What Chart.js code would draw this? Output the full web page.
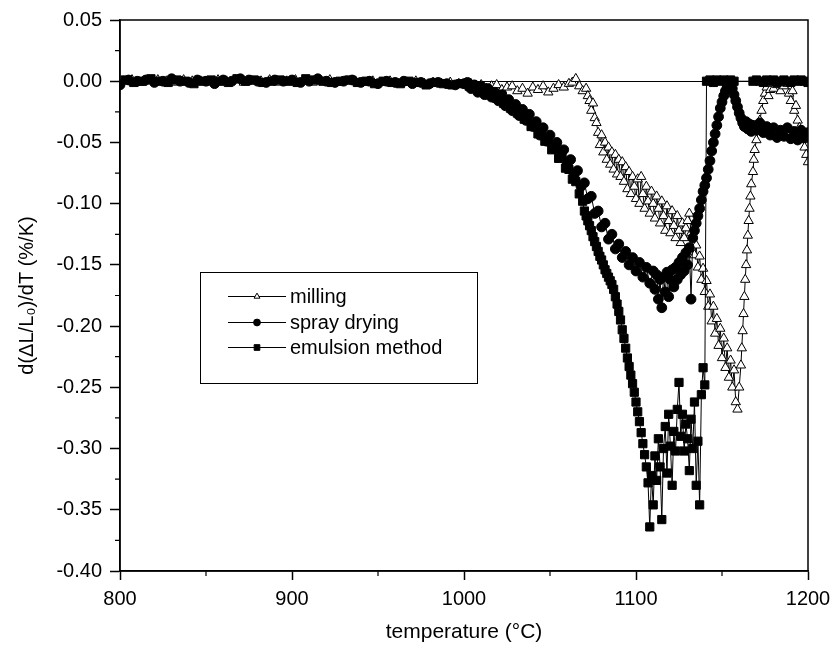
<!DOCTYPE html>
<html>
<head>
<meta charset="utf-8">
<script src="https://cdn.jsdelivr.net/npm/chart.js@4.4.0/dist/chart.umd.min.js"></script>
<style>
  html,body{margin:0;padding:0;background:#fff}
  #wrap{width:831px;height:649px}
</style>
</head>
<body>
<div id="wrap"><canvas id="chart" width="831" height="649"></canvas></div>
<script>
// valores (temperatura em °C, d(ΔL/L0)/dT em %/K)
const seriesNames = ['milling', 'spray drying', 'emulsion method'];
const xTicks = [800, 900, 1000, 1100, 1200];
const yTicks = [0.05, 0.00, -0.05, -0.10, -0.15, -0.20, -0.25, -0.30, -0.35, -0.40];

const millingT = [
  802,807,812,817,822,827,832,837,842,847,852,857,862,867,872,877,882,887,892,897,
  902,907,912,917,922,927,932,937,942,947,952,957,962,967,972,977,982,987,992,997,
  1001,1004,1007,1010,1013,1016,1019,1022,1025,1028,1031,1034,1037,1040,1043,1046,1049,1052,1055,1058,1061,
  1063,1065,1067,1069,1071,
  1072,1073,1074,1075,1076,1077,1078,1079,1080,1081,1082,1083,1084,1085,1086,1087,1088,1089,1090,1091,
  1092,1093,1094,1095,1096,1097,1098,1099,1100,1101,1102,1103,1104,1105,1106,1107,1108,1109,1110,1111,
  1112,1113,1114,1115,1116,1117,1118,1119,1120,1121,1122,1123,1124,1125,1126,1127,1128,1129,1130,1131,
  1132,1133,1134,1135,1136,1137,1138,1139,1140,1141,1142,1143,1144,1145,1146,1147,1148,1149,1150,1151,
  1152,1153,1154,1155,1156,1157,1158,1159,
  1160,1161,1161.5,1162,1162.5,1163,1163.5,1164,1164.5,1165,1165.5,1166,1166.5,1167,1168,1168.5,1169,
  1170,1171,1172,1173,1174,1175,1176,1177,1178,1179,1180,
  1182,1184,1186,1188,1189,1190,1191,1192,1193,1194,1195,1196,1197,1198,1199,1200
];
const millingV = [
  0.000,0.001,-0.001,0.000,0.001,0.000,-0.001,0.001,0.000,0.000,-0.001,0.001,0.000,0.001,-0.001,0.000,0.000,0.001,-0.001,0.000,
  0.001,0.000,-0.001,0.000,0.001,-0.001,0.000,0.000,-0.001,0.000,-0.001,0.000,-0.002,-0.001,0.000,-0.002,-0.001,-0.002,-0.001,-0.002,
  -0.003,-0.002,-0.004,-0.003,-0.006,-0.004,-0.003,-0.007,-0.005,-0.004,-0.008,-0.006,-0.010,-0.005,-0.007,-0.004,-0.009,-0.006,-0.003,-0.005,-0.002,
  -0.001,0.002,-0.004,-0.008,-0.006,
  -0.012,-0.016,-0.024,-0.018,-0.030,-0.034,-0.042,-0.052,-0.044,-0.058,-0.050,-0.064,-0.054,-0.068,-0.058,-0.072,-0.060,-0.076,-0.064,-0.078,
  -0.066,-0.082,-0.070,-0.088,-0.074,-0.092,-0.078,-0.086,-0.096,-0.080,-0.100,-0.078,-0.092,-0.104,-0.086,-0.098,-0.108,-0.090,-0.100,-0.112,
  -0.094,-0.104,-0.116,-0.098,-0.110,-0.122,-0.102,-0.114,-0.124,-0.106,-0.118,-0.128,-0.110,-0.122,-0.132,-0.116,-0.128,-0.120,-0.114,-0.108,
  -0.124,-0.132,-0.142,-0.134,-0.152,-0.143,-0.162,-0.153,-0.172,-0.163,-0.184,-0.174,-0.196,-0.184,-0.206,-0.194,-0.216,-0.202,-0.226,-0.210,
  -0.234,-0.218,-0.242,-0.228,-0.250,-0.236,-0.262,-0.268,
  -0.250,-0.232,-0.218,-0.204,-0.190,-0.176,-0.162,-0.150,-0.138,-0.126,-0.114,-0.104,-0.094,-0.084,-0.074,-0.064,-0.056,
  -0.048,-0.040,-0.032,-0.024,-0.016,-0.010,-0.005,-0.012,-0.007,-0.002,-0.006,
  -0.003,-0.008,-0.004,-0.002,-0.010,-0.016,-0.008,-0.024,-0.020,-0.032,-0.038,-0.044,-0.048,-0.054,-0.060,-0.066
];

const sprayT = [
  800,805,810,815,820,825,830,835,840,845,850,855,860,865,870,875,880,885,890,895,
  900,905,910,915,920,925,930,935,940,945,950,955,960,965,970,975,980,985,990,995,1000,
  1002,1004,1006,1008,1010,1012,1014,1016,1018,1020,1022,1024,1026,1028,1030,1032,1034,1036,1038,1040,
  1042,1044,1046,1048,1050,1052,1054,1056,1058,1060,1062,1064,1066,1068,1070,1072,1074,1076,1078,1080,
  1082,1084,1086,1088,1090,1092,1094,1096,1098,1100,1102,1104,1106,1108,1110,
  1111,1112,1113,1114,1115,1116,1117,1118,1119,1120,1121,1122,1123,1124,1125,1126,1127,1128,1129,1130,
  1131,1132,1133,1134,1135,1136,1137,1138,1139,1140,1141,1142,1143,1144,1145,1146,1147,1148,1149,1150,
  1151,1152,1153,1154,1155,1156,1157,1158,1159,1160,1161,1162,1163,1164,1165,1166,1167,1168,
  1170,1172,1174,1176,1178,1180,1182,1184,1186,1188,1190,1192,1194,1196,1198,1200
];
const sprayV = [
  -0.003,0.001,0.000,0.001,-0.001,0.000,0.002,0.000,-0.001,0.001,0.000,-0.002,0.001,0.000,0.002,0.001,0.000,-0.001,0.001,0.000,
  0.001,-0.001,0.000,0.002,0.000,-0.001,0.000,0.001,-0.001,0.000,-0.002,0.000,-0.001,0.000,-0.002,-0.001,-0.002,-0.001,-0.002,-0.003,-0.002,
  -0.001,-0.006,-0.003,-0.009,-0.004,-0.011,-0.006,-0.013,-0.009,-0.016,-0.011,-0.020,-0.015,-0.024,-0.019,-0.028,-0.023,-0.032,-0.027,-0.037,
  -0.033,-0.044,-0.038,-0.049,-0.044,-0.055,-0.050,-0.061,-0.056,-0.068,-0.064,-0.076,-0.073,-0.086,-0.083,-0.096,-0.094,-0.108,-0.106,-0.119,
  -0.116,-0.129,-0.125,-0.137,-0.133,-0.144,-0.139,-0.150,-0.144,-0.155,-0.148,-0.160,-0.152,-0.165,-0.155,
  -0.170,-0.158,-0.178,-0.162,-0.185,-0.160,-0.172,-0.156,-0.176,-0.162,-0.154,-0.168,-0.152,-0.162,-0.148,-0.158,-0.144,-0.155,-0.140,-0.150,
  -0.136,-0.178,-0.128,-0.122,-0.116,-0.110,-0.104,-0.097,-0.090,-0.085,-0.079,-0.072,-0.065,-0.057,-0.050,-0.043,-0.036,-0.029,-0.022,-0.017,
  -0.012,-0.008,-0.005,-0.002,-0.001,-0.006,-0.011,-0.016,-0.021,-0.026,-0.030,-0.034,-0.037,-0.033,-0.039,-0.035,-0.041,-0.036,
  -0.040,-0.034,-0.042,-0.037,-0.044,-0.038,-0.046,-0.040,-0.045,-0.038,-0.047,-0.041,-0.048,-0.040,-0.046,-0.042
];

const emulsionT = [
  803,808,813,818,823,828,833,838,843,848,853,858,863,868,873,878,883,888,893,898,
  903,908,913,918,923,928,933,938,943,948,953,958,963,968,973,978,983,988,993,998,
  1001,1003,1005,1007,1009,1011,1013,1015,1017,1019,1021,1023,1025,1027,1029,1031,1033,1035,1037,1039,
  1041,1043,1045,1047,1049,1051,1053,1055,1057,1059,1061,1063,1065,1067,1069,
  1070,1071,1072,1073,1074,1075,1076,1077,1078,1079,1080,1081,1082,1083,1084,1085,1086,1087,1088,1089,
  1090,1091,1092,1093,1094,1095,1096,1097,1098,1099,1100,1101,1102,1103,1104,1105,1106,1107,1108,1109,
  1110,1111,1112,1113,1114,1115,1116,1117,1118,1119,1120,1121,1122,1123,1124,1125,1126,1127,1128,1129,
  1130,1131,1132,1133,1134,1135,1136,1137,1138,1139,1140,
  1141,1143,1145,1147,1149,1151,1153,1155,1157,
  1168,1170,1172,1174,1176,1178,1180,1182,1184,1186,1188,1190,1192,1194,1196,1198,1200
];
const emulsionV = [
  0.001,-0.001,0.000,0.002,0.000,-0.001,0.001,0.000,-0.002,0.000,0.001,0.000,-0.001,0.002,0.000,0.001,-0.001,0.000,0.001,0.000,
  -0.001,0.002,0.001,0.000,-0.001,0.000,0.001,-0.001,0.000,-0.002,0.000,-0.001,-0.002,0.000,-0.001,-0.003,-0.001,-0.002,-0.003,-0.002,
  -0.002,-0.004,-0.003,-0.006,-0.005,-0.008,-0.007,-0.011,-0.010,-0.014,-0.013,-0.018,-0.016,-0.022,-0.020,-0.026,-0.025,-0.031,-0.030,-0.037,
  -0.036,-0.043,-0.042,-0.049,-0.048,-0.056,-0.055,-0.063,-0.062,-0.071,-0.072,-0.080,-0.082,-0.092,-0.098,
  -0.106,-0.110,-0.114,-0.118,-0.122,-0.127,-0.131,-0.135,-0.139,-0.143,-0.146,-0.150,-0.154,-0.157,-0.160,-0.163,-0.166,-0.170,-0.176,-0.182,
  -0.188,-0.195,-0.203,-0.210,-0.218,-0.226,-0.233,-0.240,-0.247,-0.254,-0.262,-0.270,-0.278,-0.287,-0.296,-0.305,-0.315,-0.328,-0.364,-0.322,
  -0.346,-0.306,-0.326,-0.292,-0.315,-0.358,-0.300,-0.282,-0.320,-0.272,-0.298,-0.330,-0.286,-0.302,-0.268,-0.246,-0.290,-0.272,-0.302,-0.280,
  -0.292,-0.318,-0.276,-0.300,-0.262,-0.330,-0.294,-0.346,-0.256,-0.234,-0.248,
  0.000,0.001,-0.001,0.001,0.000,0.001,-0.001,0.001,0.000,
  0.000,0.001,0.000,-0.001,0.001,0.000,0.001,-0.001,0.000,0.001,0.000,-0.001,0.001,0.000,0.001,0.000,-0.001
];

const FONT = "'Liberation Sans', Arial, sans-serif";

function pts(T, V){
  if(T.length !== V.length) console.warn('tamanhos diferentes', T.length, V.length);
  const n = Math.min(T.length, V.length);
  const out = [];
  for(let i = 0; i < n; i++) out.push({x: T[i], y: V[i]});
  return out;
}

// moldura, ticks menores e legenda dentro da área do gráfico
const framePlugin = {
  id: 'frame',
  afterDraw(chart){
    const {ctx, chartArea: a, scales} = chart;
    ctx.save();
    ctx.strokeStyle = '#000';
    ctx.lineWidth = 1.5;
    ctx.strokeRect(a.left, a.top, a.right - a.left, a.bottom - a.top);

    // ticks menores
    ctx.lineWidth = 1.2;
    ctx.beginPath();
    for(let i = 0; i < xTicks.length - 1; i++){
      const px = scales.x.getPixelForValue((xTicks[i] + xTicks[i+1]) / 2);
      ctx.moveTo(px, a.bottom); ctx.lineTo(px, a.bottom + 5);
    }
    for(let i = 0; i < yTicks.length - 1; i++){
      const py = scales.y.getPixelForValue((yTicks[i] + yTicks[i+1]) / 2);
      ctx.moveTo(a.left, py); ctx.lineTo(a.left - 5, py);
    }
    ctx.stroke();

    // legenda
    const box = {x: 200.5, y: 272.5, w: 277, h: 111};
    ctx.fillStyle = '#fff';
    ctx.fillRect(box.x, box.y, box.w, box.h);
    ctx.lineWidth = 1;
    ctx.strokeRect(box.x, box.y, box.w, box.h);
    chart.data.datasets.forEach((ds, i) => {
      const y = Math.round(296 + i * 25.5) + 0.5;
      ctx.strokeStyle = '#000';
      ctx.lineWidth = 1;
      ctx.beginPath(); ctx.moveTo(228, y); ctx.lineTo(286, y); ctx.stroke();
      ctx.fillStyle = ds.pointBackgroundColor;
      ctx.strokeStyle = '#000';
      const opts = {pointStyle: ds.pointStyle, radius: ds.pointStyle === 'rect' ? 4 : 3.4, rotation: 0, borderWidth: 1};
      if(Chart.helpers && Chart.helpers.drawPoint) Chart.helpers.drawPoint(ctx, opts, 257, y);
      ctx.fillStyle = '#000';
      ctx.font = '20px ' + FONT;
      ctx.textAlign = 'left';
      ctx.textBaseline = 'middle';
      ctx.fillText(ds.label, 290, y + 1);
    });
    ctx.restore();
  }
};

function createChart(){
  const ctx = document.getElementById('chart').getContext('2d');
  return new Chart(ctx, {
    type: 'scatter',
    data: {
      datasets: [
        {label: seriesNames[0], data: pts(millingT, millingV), showLine: true,
         borderColor: '#000', borderWidth: 1, pointStyle: 'triangle', pointRadius: 5.4,
         pointBackgroundColor: '#fff', pointBorderColor: '#000', pointBorderWidth: 1, order: 3},
        {label: seriesNames[1], data: pts(sprayT, sprayV), showLine: true,
         borderColor: '#000', borderWidth: 1, pointStyle: 'circle', pointRadius: 4.9,
         pointBackgroundColor: '#000', pointBorderColor: '#000', pointBorderWidth: 1, order: 2},
        {label: seriesNames[2], data: pts(emulsionT, emulsionV), showLine: true,
         borderColor: '#000', borderWidth: 1, pointStyle: 'rect', pointRadius: 5.8,
         pointBackgroundColor: '#000', pointBorderColor: '#000', pointBorderWidth: 1, order: 1}
      ]
    },
    options: {
      responsive: false,
      animation: false,
      events: [],
      layout: {padding: {top: 20, right: 23, bottom: 0, left: 0}},
      plugins: {legend: {display: false}, tooltip: {enabled: false}},
      scales: {
        x: {
          type: 'linear', min: xTicks[0], max: xTicks[xTicks.length - 1],
          afterFit: s => { s.height = 78; s.paddingLeft = 0; s.paddingRight = 0; },
          ticks: {stepSize: 100, color: '#000', font: {family: FONT, size: 20}, padding: 7, maxRotation: 0,
                  callback: v => String(v)},
          grid: {drawOnChartArea: false, tickLength: 9, tickColor: '#000', tickWidth: 1.5},
          border: {color: '#000', width: 1.5},
          title: {display: true, text: 'temperature (°C)', color: '#000',
                  font: {family: FONT, size: 21}, padding: {top: 0, bottom: 4}}
        },
        y: {
          min: yTicks[yTicks.length - 1], max: yTicks[0],
          afterFit: s => { s.width = 120; },
          ticks: {stepSize: 0.05, color: '#000', font: {family: FONT, size: 20}, padding: 8,
                  callback: v => (Math.abs(v) < 1e-9 ? 0 : v).toFixed(2)},
          grid: {
            color: c => (c.tick && Math.abs(c.tick.value) < 1e-9) ? '#000' : 'rgba(0,0,0,0)',
            lineWidth: 1, tickLength: 10, tickColor: '#000', tickWidth: 1.5
          },
          border: {color: '#000', width: 1.5},
          title: {display: true, text: 'd(ΔL/L₀)/dT (%/K)', color: '#000',
                  font: {family: FONT, size: 20}, padding: {top: 15, bottom: 0}}
        }
      }
    },
    plugins: [framePlugin]
  });
}

document.addEventListener('DOMContentLoaded', () => { createChart(); });
</script>
</body>
</html>
